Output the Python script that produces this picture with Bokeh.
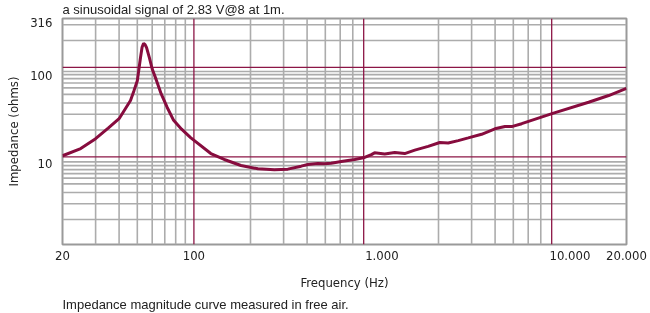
from bokeh.plotting import figure
from bokeh.models import Range1d, Span, FixedTicker, Title
from bokeh.embed import file_html
from bokeh.resources import INLINE

# ---- data ----
freq = [20, 25, 30, 35, 40, 46, 48, 50, 52, 53, 54, 55, 56, 58, 60, 63, 67, 72, 78, 86, 96,
        123, 145, 178, 219, 268, 316, 372, 404, 456, 495, 537, 608, 716, 809, 879, 914,
        1035, 1170, 1322, 1496, 1762, 2032, 2252, 2548, 2880, 3390, 3992, 4514, 4900,
        5540, 8180, 12570, 16080, 20000]
impedance = [10.3, 12.4, 16.0, 21.0, 26.7, 42.7, 55.0, 71.0, 129, 168, 186, 180, 166, 128, 96,
             73, 50.6, 35.9, 25.6, 20.4, 16.4,
             10.9, 9.36, 8.02, 7.36, 7.17, 7.30, 7.88, 8.23, 8.45, 8.36, 8.51, 8.89, 9.36, 9.85,
             10.6, 11.1, 10.8, 11.2, 10.9, 11.9, 13.1, 14.5, 14.3, 15.2, 16.3, 17.9, 20.6, 21.9,
             21.8, 23.5, 30.8, 40.8, 48.5, 58.4]

x_ticks = [20, 100, 1000, 10000, 20000]
x_tick_labels = ["20", "100", "1.000", "10.000", "20.000"]
y_ticks = [8.4, 81, 316]
y_tick_labels = ["10", "100", "316"]

x_grid_gray = [30, 40, 50, 60, 70, 80, 90, 200, 300, 400, 500, 600, 700,
               2000, 3000, 4000, 5000, 6000, 7000]
x_grid_red = [100, 800, 8000]
y_grid_gray = [2, 3, 4, 5, 5.8, 6.5, 7.2, 8, 8.8, 20, 30, 40, 50, 59, 67, 75, 83, 90, 200, 300]
y_grid_red = [10, 100]

x_min, x_max = 20, 20000
y_min, y_max = 1.05, 352

CURVE = "#870c3e"
RED = "#8c1646"
GRAY = "#acacac"
NARROW = "DejaVu Sans Condensed"

p = figure(width=650, height=313, x_axis_type="log", y_axis_type="log",
           x_range=Range1d(x_min, x_max), y_range=Range1d(y_min, y_max),
           output_backend="svg", toolbar_location=None,
           min_border_left=62, min_border_right=24, min_border_top=18, min_border_bottom=69,
           styles={"position": "fixed", "left": "0px", "top": "0px"})

p.background_fill_color = "white"
p.border_fill_color = "white"
p.outline_line_color = "#9a9a9a"
p.outline_line_width = 2
p.xgrid.visible = False
p.ygrid.visible = False

for v in x_grid_gray:
    p.add_layout(Span(location=v, dimension="height", line_color=GRAY, line_width=1.6, level="underlay"))
for v in y_grid_gray:
    p.add_layout(Span(location=v, dimension="width", line_color=GRAY, line_width=1.6, level="underlay"))
for v in x_grid_red:
    p.add_layout(Span(location=v, dimension="height", line_color=RED, line_width=1.3, level="underlay"))
for v in y_grid_red:
    p.add_layout(Span(location=v, dimension="width", line_color=RED, line_width=1.3, level="underlay"))

p.line(freq, impedance, line_color=CURVE, line_width=3)

for ax in (p.xaxis[0], p.yaxis[0]):
    ax.axis_line_color = None
    ax.major_tick_line_color = None
    ax.minor_tick_line_color = None
    ax.major_tick_out = 0
    ax.major_tick_in = 0
    ax.minor_tick_out = 0
    ax.minor_tick_in = 0
    ax.major_label_text_font = NARROW
    ax.major_label_text_font_size = "13px"
    ax.major_label_text_color = "#222222"
    ax.axis_label_text_font = NARROW
    ax.axis_label_text_font_size = "13px"
    ax.axis_label_text_font_style = "normal"
    ax.axis_label_text_color = "#222222"

p.xaxis.ticker = FixedTicker(ticks=x_ticks)
p.xaxis.major_label_overrides = dict(zip(x_ticks, x_tick_labels))
p.xaxis.axis_label = "Frequency (Hz)"
p.xaxis.major_label_standoff = 6
p.xaxis.axis_label_standoff = 12

p.yaxis.ticker = FixedTicker(ticks=y_ticks)
p.yaxis.major_label_overrides = dict(zip(y_ticks, y_tick_labels))
p.yaxis.axis_label = "Impedance (ohms)"
p.yaxis.major_label_standoff = 10
p.yaxis.axis_label_standoff = 6

p.title.text = "a sinusoidal signal of 2.83 V@8 at 1m."
p.title.align = "left"
p.title.vertical_align = "top"
p.title.text_font = "Liberation Sans"
p.title.text_font_size = "13px"
p.title.text_font_style = "normal"
p.title.text_color = "#222222"
p.title.standoff = 0

caption = Title(text="Impedance magnitude curve measured in free air.", align="left",
                text_font="Liberation Sans", text_font_size="13px", text_font_style="normal",
                text_color="#222222", standoff=4)
p.add_layout(caption, "below")

open("out.html", "w").write(file_html(p, INLINE))
